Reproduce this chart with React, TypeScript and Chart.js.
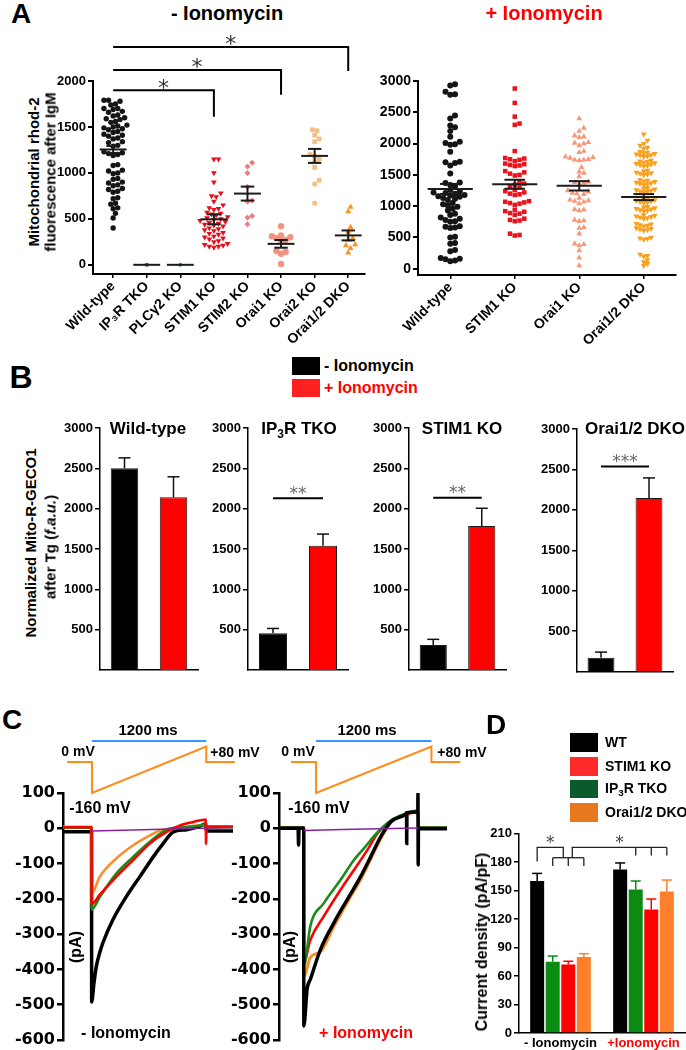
import React, { useEffect, useRef } from 'react';
import { Chart, registerables } from 'chart.js';

Chart.register(...registerables);

const SANS = "'Liberation Sans', Arial, Helvetica, sans-serif";
const DEJAVU = "'DejaVu Sans', 'Liberation Sans', sans-serif";

/* ================= Panel A : - Ionomycin ================= */
const aMinusCategories = ['Wild-type', 'IP₃R TKO', 'PLCγ2 KO', 'STIM1 KO', 'STIM2 KO', 'Orai1 KO', 'Orai2 KO', 'Orai1/2 DKO'];
const aMinusWildType = [1790, 1790, 1780, 1750, 1740, 1700, 1700, 1690, 1670, 1660, 1630, 1620, 1600, 1590, 1580, 1560, 1550, 1520, 1510, 1500, 1490, 1480, 1470, 1450, 1440, 1420, 1410, 1400, 1380, 1370, 1340, 1330, 1300, 1290, 1230, 1220, 1210, 1200, 1190, 1090, 1080, 1030, 1020, 1000, 990, 940, 930, 900, 890, 870, 860, 830, 820, 800, 790, 730, 720, 670, 660, 620, 610, 560, 510, 400];
const aMinusIP3RTKO = [0];
const aMinusPLCg2KO = [0];
const aMinusSTIM1KO = [1150, 1150, 1000, 900, 780, 750, 740, 690, 650, 620, 610, 600, 570, 560, 550, 540, 520, 510, 500, 490, 480, 470, 460, 450, 440, 430, 420, 400, 390, 380, 370, 350, 340, 330, 310, 300, 290, 280, 260, 250, 230, 220, 210, 200, 200, 190];
const aMinusSTIM2KO = [1110, 1070, 1000, 850, 700, 690, 530, 515, 440];
const aMinusOrai1KO = [420, 320, 310, 300, 290, 270, 260, 150, 140, 120, 10];
const aMinusOrai2KO = [1470, 1460, 1410, 1370, 1340, 1200, 1180, 1150, 1120, 1060, 920, 880, 670];
const aMinusOrai12DKO = [630, 580, 410, 360, 290, 270, 220, 210, 180, 130];
const aMinusMeans = [1255, 0, 0, 495, 775, 228, 1185, 320];
const aMinusSEM = [38, 0, 0, 54, 76, 42, 76, 54];
const aMinusYTicks = [0, 500, 1000, 1500, 2000];

/* ================= Panel A : + Ionomycin ================= */
const aPlusCategories = ['Wild-type', 'STIM1 KO', 'Orai1 KO', 'Orai1/2 DKO'];
const aPlusWildType = [2950, 2930, 2830, 2790, 2780, 2450, 2400, 2290, 2260, 2200, 2110, 2030, 2010, 1990, 1980, 1870, 1710, 1700, 1690, 1650, 1520, 1380, 1370, 1340, 1320, 1260, 1240, 1220, 1210, 1200, 1180, 1170, 1160, 1150, 1130, 1120, 1100, 1050, 1030, 1010, 990, 960, 930, 880, 860, 820, 800, 780, 760, 750, 680, 670, 660, 650, 510, 500, 410, 400, 300, 280, 170, 160, 150, 130, 120];
const aPlusSTIM1KO = [2880, 2650, 2430, 2320, 2300, 1880, 1770, 1760, 1750, 1740, 1720, 1680, 1670, 1660, 1650, 1640, 1560, 1540, 1520, 1500, 1490, 1380, 1360, 1340, 1310, 1300, 1260, 1240, 1220, 1200, 1190, 1180, 1080, 1070, 1060, 1050, 1040, 1020, 940, 920, 910, 890, 880, 860, 800, 780, 770, 760, 560, 540, 530];
const aPlusOrai1KO = [2400, 2250, 2200, 2130, 2110, 2100, 2020, 2010, 2000, 1970, 1880, 1860, 1790, 1780, 1770, 1750, 1740, 1740, 1730, 1620, 1550, 1530, 1475, 1390, 1380, 1370, 1340, 1250, 1230, 1210, 1200, 1190, 1130, 1100, 1090, 1080, 1070, 1040, 950, 940, 930, 780, 770, 760, 660, 650, 560, 400, 390, 370, 290, 175, 50];
const aPlusOrai12DKO = [2150, 2050, 2000, 1970, 1940, 1920, 1870, 1860, 1850, 1840, 1830, 1820, 1810, 1800, 1790, 1730, 1720, 1710, 1700, 1690, 1680, 1670, 1660, 1650, 1640, 1570, 1560, 1540, 1530, 1520, 1510, 1500, 1420, 1410, 1400, 1390, 1380, 1370, 1360, 1350, 1340, 1290, 1280, 1270, 1260, 1250, 1240, 1230, 1220, 1120, 1110, 1100, 1090, 1080, 1070, 1060, 1050, 990, 980, 970, 960, 950, 940, 930, 920, 860, 850, 840, 830, 820, 810, 800, 720, 710, 700, 690, 680, 650, 640, 630, 620, 610, 500, 490, 480, 470, 230, 210, 200, 140, 110, 80, 50];
const aPlusMeans = [1275, 1350, 1325, 1145];
const aPlusSEM = [80, 72, 75, 48];
const aPlusYTicks = [0, 500, 1000, 1500, 2000, 2500, 3000];

/* ================= Panel B ================= */
const bConditions = ['- Ionomycin', '+ Ionomycin'];
const bGenotypes = ['Wild-type', 'IP3R TKO', 'STIM1 KO', 'Orai1/2 DKO'];
const bMinusMean = [2500, 455, 310, 170];
const bMinusErr = [130, 60, 70, 70];
const bPlusMean = [2140, 1540, 1785, 2145];
const bPlusErr = [255, 145, 220, 250];
const bSignif = ['', '**', '**', '***'];
const bYTicks = [500, 1000, 1500, 2000, 2500, 3000];

/* ================= Panel C (traces, pA vs ms from ramp start) ================= */
const cMinusWTTime = [-300, -1, 0, 25, 50, 85, 120, 225, 365, 505, 645, 750, 855, 995, 1135, 1195, 1200, 1480];
const cMinusWT = [-10, -10, -492, -437, -390, -352, -323, -258, -193, -137, -81, -43, -10, -4, 6, 13, -8, -8];
const cMinusSTIM1Time = [-300, -1, 0, 85, 260, 435, 610, 785, 925, 1065, 1195, 1198, 1202, 1480];
const cMinusSTIM1 = [3, 3, -215, -188, -137, -90, -43, -10, 8, 18, 25, -45, 5, 5];
const cMinusIP3RTime = [-300, -1, 0, 85, 260, 435, 610, 785, 925, 1065, 1195, 1200, 1480];
const cMinusIP3R = [2, 2, -230, -195, -128, -81, -38, -4, 2, 5, 10, 3, 3];
const cMinusOraiTime = [-300, -1, 0, 85, 260, 435, 610, 715, 855, 1000, 1195, 1200, 1480];
const cMinusOrai = [4, 4, -185, -137, -85, -48, -20, -6, 0, 5, 10, 4, 4];
const cMinusRefTime = [0, 1480];
const cMinusRef = [-8, 2];

const cPlusWTTime = [-260, -60, -55, -50, -1, 0, 35, 70, 175, 315, 455, 595, 700, 805, 910, 1050, 1076, 1078, 1080, 1172, 1194, 1196, 1198, 1201, 1500];
const cPlusWT = [0, 0, -48, 0, 0, -560, -455, -427, -343, -268, -202, -137, -81, -24, 18, 37, 42, -43, 44, 46, 48, 102, -104, -1, -1];
const cPlusSTIM1Time = [-260, -1, 0, 70, 210, 385, 525, 665, 770, 910, 1050, 1196, 1201, 1500];
const cPlusSTIM1 = [3, 3, -380, -315, -249, -174, -118, -62, -15, 20, 38, 46, 2, 2];
const cPlusIP3RTime = [-260, -1, 0, 70, 210, 385, 525, 630, 770, 910, 1050, 1196, 1201, 1500];
const cPlusIP3R = [2, 2, -390, -275, -212, -146, -90, -57, -12, 22, 40, 50, 2, 2];
const cPlusOraiTime = [-260, -1, 0, 70, 175, 315, 455, 595, 700, 805, 910, 1050, 1196, 1201, 1500];
const cPlusOrai = [2, 2, -420, -365, -350, -278, -210, -145, -88, -30, 16, 36, 47, 2, 2];
const cPlusRefTime = [0, 1200];
const cPlusRef = [-6, 1];
const cYTicks = [-600, -500, -400, -300, -200, -100, 0, 100];

const protocolTime = [-260, 0, 0, 1200, 1200, 1500];
const protocolVoltage = [0, 0, -160, 80, 0, 0];

/* ================= Panel D ================= */
const dConditions = ['- Ionomycin', '+Ionomycin'];
const dWT = [160, 172];
const dWTErr = [8, 7];
const dIP3RTKO = [75, 151];
const dIP3RTKOErr = [6, 9];
const dSTIM1KO = [72, 130];
const dSTIM1KOErr = [3.5, 11];
const dOrai12DKO = [80, 149];
const dOrai12DKOErr = [3.5, 12];
const dYTicks = [0, 30, 60, 90, 120, 150, 180, 210];

/* ================= helpers ================= */
function seg(ctx: any, x1: number, y1: number, x2: number, y2: number) {
  ctx.beginPath();
  ctx.moveTo(x1, y1);
  ctx.lineTo(x2, y2);
  ctx.stroke();
}

function centeredText(ctx: any, text: string, x: number, cy: number, font: string, color: string) {
  ctx.save();
  ctx.font = font;
  ctx.fillStyle = color;
  ctx.textAlign = 'center';
  ctx.textBaseline = 'alphabetic';
  const m = ctx.measureText(text);
  const base = cy + (m.actualBoundingBoxAscent - m.actualBoundingBoxDescent) / 2;
  ctx.fillText(text, x, base);
  ctx.restore();
}

// simple beeswarm layout: keeps each value, spreads points sideways to avoid overlap
function beeswarm(values: number[], center: number, unitsPerPx: number, pxPerCat: number, diam: number) {
  const placed: { x: number; y: number }[] = [];
  const out: { x: number; y: number }[] = [];
  const sorted = [...values].sort((a, b) => a - b);
  const cands: number[] = [0];
  for (let k = 1; k < 80; k++) cands.push(k * diam * 0.5, -k * diam * 0.5);
  for (const v of sorted) {
    const ypx = v / unitsPerPx;
    let best = 0;
    for (const c of cands) {
      let ok = true;
      for (const p of placed) {
        if ((p.x - c) * (p.x - c) + (p.y - ypx) * (p.y - ypx) < diam * diam) { ok = false; break; }
      }
      if (ok) { best = c; break; }
    }
    placed.push({ x: best, y: ypx });
    out.push({ x: center + best / pxPerCat, y: v });
  }
  return out;
}

const tickFont = (size: number, family = SANS) => ({ family, size, weight: 'bold' as const, lineHeight: 1 });

function yAxis(min: number, max: number, ticks: number[], width: number, font: any, bw: number, tl = 5) {
  return {
    type: 'linear',
    min,
    max,
    afterBuildTicks: (s: any) => { s.ticks = ticks.map((v) => ({ value: v })); },
    afterFit: (s: any) => { s.width = width; },
    border: { display: true, color: '#000', width: bw },
    grid: { drawOnChartArea: false, color: '#000', lineWidth: bw, tickLength: tl },
    ticks: { color: '#000', font, padding: 2, callback: (v: any) => String(v) },
  };
}

const baseOptions = {
  responsive: false,
  maintainAspectRatio: false,
  animation: false,
  events: [],
  plugins: { legend: { display: false }, tooltip: { enabled: false }, title: { display: false } },
};

function meanSemPlugin(means: number[], sems: number[], half: number, cap: number) {
  return {
    id: 'meanSem',
    afterDatasetsDraw(chart: any) {
      const { ctx } = chart;
      const x = chart.scales.x, y = chart.scales.y;
      ctx.save();
      ctx.strokeStyle = '#1b1b1b';
      ctx.lineWidth = 2;
      means.forEach((m, i) => {
        const c = x.getPixelForValue(i);
        const hw = x.getPixelForValue(i + half) - c;
        const cw = x.getPixelForValue(i + cap) - c;
        const ym = y.getPixelForValue(m);
        seg(ctx, c - hw, ym, c + hw, ym);
        if (sems[i] > 0) {
          const yt = y.getPixelForValue(m + sems[i]);
          const yb = y.getPixelForValue(m - sems[i]);
          seg(ctx, c - cw, yt, c + cw, yt);
          seg(ctx, c - cw, yb, c + cw, yb);
          seg(ctx, c, yt, c, yb);
        }
      });
      ctx.restore();
    },
  };
}

/* ================= chart configs ================= */
function aMinusConfig() {
  const groups = [aMinusWildType, aMinusIP3RTKO, aMinusPLCg2KO, aMinusSTIM1KO, aMinusSTIM2KO, aMinusOrai1KO, aMinusOrai2KO, aMinusOrai12DKO];
  const styles = [
    { c: '#151515', s: 'circle', r: 2.7, rot: 0 },
    { c: '#555555', s: 'rect', r: 2.5, rot: 0 },
    { c: '#1d9c86', s: 'circle', r: 2, rot: 0 },
    { c: '#e3101e', s: 'triangle', r: 3.3, rot: 180 },
    { c: '#ee7b80', s: 'rectRot', r: 3, rot: 0 },
    { c: '#f39482', s: 'circle', r: 3.2, rot: 0 },
    { c: '#f4bf86', s: 'rect', r: 3.3, rot: 0 },
    { c: '#f69421', s: 'triangle', r: 3.5, rot: 0 },
  ];
  const brackets = [
    { from: 0, to: 3, level: 1900, drop: 1610 },
    { from: 0, to: 5, level: 2120, drop: 1850 },
    { from: 0, to: 7, level: 2370, drop: 2110 },
  ];
  return {
    type: 'scatter',
    data: {
      datasets: groups.map((g, i) => ({
        data: beeswarm(g, i, 10.87, 33.6, 4.6),
        backgroundColor: styles[i].c,
        borderColor: styles[i].c,
        borderWidth: 0,
        pointStyle: styles[i].s,
        pointRadius: styles[i].r,
        rotation: styles[i].rot,
      })),
    },
    options: {
      ...baseOptions,
      layout: { padding: { top: 51, right: 10, left: 0, bottom: 0 } },
      scales: {
        x: {
          type: 'linear',
          min: -0.6,
          max: 7.5,
          afterBuildTicks: (s: any) => { s.ticks = aMinusCategories.map((_, i) => ({ value: i })); },
          afterFit: (s: any) => { s.height = 71; },
          border: { display: true, color: '#000', width: 2 },
          grid: { drawOnChartArea: false, color: '#000', lineWidth: 1.5, tickLength: 4 },
          ticks: { color: '#000', font: tickFont(14), padding: 1, autoSkip: false, minRotation: 45, maxRotation: 45, callback: (v: any) => aMinusCategories[v] },
        },
        y: yAxis(-100, 2000, aMinusYTicks, 38, tickFont(13), 2),
      },
    },
    plugins: [
      meanSemPlugin(aMinusMeans, aMinusSEM, 0.4, 0.2),
      {
        id: 'brackets',
        afterDraw(chart: any) {
          const { ctx } = chart;
          const x = chart.scales.x, y = chart.scales.y;
          ctx.save();
          ctx.strokeStyle = '#000';
          ctx.lineWidth = 2;
          brackets.forEach((b) => {
            const x1 = x.getPixelForValue(b.from), x2 = x.getPixelForValue(b.to);
            const yl = y.getPixelForValue(b.level), yd = y.getPixelForValue(b.drop);
            ctx.beginPath();
            ctx.moveTo(x1, yl);
            ctx.lineTo(x2, yl);
            ctx.lineTo(x2, yd);
            ctx.stroke();
            centeredText(ctx, '*', (x1 + x2) / 2, yl - 6.5, `22px ${DEJAVU}`, '#333');
          });
          ctx.restore();
        },
      },
    ],
  };
}

function aPlusConfig() {
  const groups = [aPlusWildType, aPlusSTIM1KO, aPlusOrai1KO, aPlusOrai12DKO];
  const styles = [
    { c: '#151515', s: 'circle', r: 3, rot: 0, d: 4.8 },
    { c: '#e8141c', s: 'rect', r: 3.2, rot: 0, d: 4.8 },
    { c: '#f4987a', s: 'triangle', r: 3.4, rot: 0, d: 4.6 },
    { c: '#f7a01e', s: 'triangle', r: 3.4, rot: 180, d: 3.7 },
  ];
  return {
    type: 'scatter',
    data: {
      datasets: groups.map((g, i) => ({
        data: beeswarm(g, i, 15.98, 65, styles[i].d),
        backgroundColor: styles[i].c,
        borderColor: styles[i].c,
        borderWidth: 0,
        pointStyle: styles[i].s,
        pointRadius: styles[i].r,
        rotation: styles[i].rot,
      })),
    },
    options: {
      ...baseOptions,
      layout: { padding: { top: 51, right: 10, left: 0, bottom: 0 } },
      scales: {
        x: {
          type: 'linear',
          min: -0.5,
          max: 3.5,
          afterBuildTicks: (s: any) => { s.ticks = aPlusCategories.map((_, i) => ({ value: i })); },
          afterFit: (s: any) => { s.height = 70; },
          border: { display: true, color: '#000', width: 2 },
          grid: { drawOnChartArea: false, color: '#000', lineWidth: 1.5, tickLength: 4 },
          ticks: { color: '#000', font: tickFont(14), padding: 1, autoSkip: false, minRotation: 45, maxRotation: 45, callback: (v: any) => aPlusCategories[v] },
        },
        y: yAxis(-100, 3000, aPlusYTicks, 46, tickFont(14), 2),
      },
    },
    plugins: [meanSemPlugin(aPlusMeans, aPlusSEM, 0.35, 0.16)],
  };
}

// layout of the four B panels (pixel boxes)
const bLayout = [
  { axis: 100, end: 198, top: 428, bottom: 670, sig: 0 },
  { axis: 248, end: 348, top: 428, bottom: 670, sig: 2130 },
  { axis: 409, end: 506, top: 428, bottom: 670, sig: 2135 },
  { axis: 577, end: 673, top: 429, bottom: 672, sig: 2535 },
];

function bConfig(i: number) {
  const L = bLayout[i];
  return {
    type: 'bar',
    data: {
      labels: bConditions,
      datasets: [{
        label: bGenotypes[i],
        data: [bMinusMean[i], bPlusMean[i]],
        backgroundColor: ['#000000', '#ff0000'],
        borderColor: '#1a1a1a',
        borderWidth: 1,
        barPercentage: 0.56,
        categoryPercentage: 1,
      }],
    },
    options: {
      ...baseOptions,
      layout: { padding: { top: L.top - 415, right: 8, left: 0, bottom: 680 - L.bottom } },
      scales: {
        x: {
          type: 'category',
          afterFit: (s: any) => { s.height = 0; },
          border: { display: true, color: '#000', width: 1.5 },
          grid: { display: false, drawTicks: false },
          ticks: { display: false },
        },
        y: yAxis(0, 3000, bYTicks, 48, tickFont(13), 1.5),
      },
    },
    plugins: [{
      id: 'bExtras',
      afterDatasetsDraw(chart: any) {
        const { ctx } = chart;
        const y = chart.scales.y;
        const meta = chart.getDatasetMeta(0);
        const errs = [bMinusErr[i], bPlusErr[i]];
        const vals = [bMinusMean[i], bPlusMean[i]];
        ctx.save();
        ctx.strokeStyle = '#111';
        ctx.lineWidth = 1.5;
        meta.data.forEach((bar: any, k: number) => {
          const top = y.getPixelForValue(vals[k] + errs[k]);
          seg(ctx, bar.x, bar.y, bar.x, top);
          seg(ctx, bar.x - 6, top, bar.x + 6, top);
        });
        if (bSignif[i]) {
          const x1 = meta.data[0].x, x2 = meta.data[1].x;
          const yl = y.getPixelForValue(L.sig);
          ctx.lineWidth = 2;
          ctx.strokeStyle = '#000';
          seg(ctx, x1, yl, x2, yl);
          centeredText(ctx, bSignif[i], (x1 + x2) / 2, yl - 8, `17px ${DEJAVU}`, '#666');
        }
        ctx.restore();
      },
    }],
  };
}

function traceConfig(traces: any[], xmin: number, xmax: number, yWidth: number, padRight: number) {
  return {
    type: 'scatter',
    data: {
      datasets: traces.map((tr) => ({
        data: tr.t.map((t: number, k: number) => ({ x: t, y: tr.v[k] })),
        showLine: true,
        borderColor: tr.color,
        backgroundColor: tr.color,
        borderWidth: tr.w,
        pointRadius: 0,
        cubicInterpolationMode: 'monotone',
        fill: false,
      })),
    },
    options: {
      ...baseOptions,
      layout: { padding: { top: 13, right: padRight, left: 0, bottom: 8 } },
      scales: {
        x: { type: 'linear', min: xmin, max: xmax, display: false },
        y: yAxis(-600, 100, cYTicks, yWidth, tickFont(16, DEJAVU), 2.5, 6),
      },
    },
  };
}

function protocolConfig(padLeft: number, padRight: number) {
  return {
    type: 'scatter',
    data: {
      datasets: [{
        data: protocolTime.map((t, k) => ({ x: t, y: protocolVoltage[k] })),
        showLine: true,
        borderColor: '#ff8c1a',
        borderWidth: 2,
        pointRadius: 0,
        tension: 0,
        clip: false,
      }],
    },
    options: {
      ...baseOptions,
      layout: { padding: { top: 26.5, right: padRight, left: padLeft, bottom: 17 } },
      scales: {
        x: { type: 'linear', min: -300, max: 1550, display: false },
        y: { type: 'linear', min: -160, max: 80, display: false },
      },
    },
    plugins: [{
      id: 'scaleBar',
      afterDraw(chart: any) {
        const { ctx, chartArea } = chart;
        const x = chart.scales.x;
        ctx.save();
        ctx.strokeStyle = '#3399ff';
        ctx.lineWidth = 2;
        seg(ctx, x.getPixelForValue(0), chartArea.top - 5.5, x.getPixelForValue(1200), chartArea.top - 5.5);
        ctx.restore();
      },
    }],
  };
}

function dConfig() {
  const series = [
    { label: 'WT', data: dWT, err: dWTErr, color: '#000000' },
    { label: 'IP3R TKO', data: dIP3RTKO, err: dIP3RTKOErr, color: '#0a8c12' },
    { label: 'STIM1 KO', data: dSTIM1KO, err: dSTIM1KOErr, color: '#ff0000' },
    { label: 'Orai1/2 DKO', data: dOrai12DKO, err: dOrai12DKOErr, color: '#ff7f2a' },
  ];
  return {
    type: 'bar',
    data: {
      labels: dConditions,
      datasets: series.map((s) => ({
        label: s.label,
        data: s.data,
        backgroundColor: s.color,
        borderWidth: 0,
        barPercentage: 0.9,
        categoryPercentage: 0.75,
      })),
    },
    options: {
      ...baseOptions,
      layout: { padding: { top: 8, right: 1, left: 0, bottom: 0 } },
      scales: {
        x: {
          type: 'category',
          afterFit: (s: any) => { s.height = 17; },
          border: { display: true, color: '#000', width: 1.5 },
          grid: { display: false, drawTicks: false },
          ticks: { font: tickFont(13), padding: 4, color: (c: any) => (c.index === 1 ? '#ff0000' : '#000') },
        },
        y: yAxis(0, 210, dYTicks, 49, tickFont(13), 1.5),
      },
    },
    plugins: [{
      id: 'dExtras',
      afterDatasetsDraw(chart: any) {
        const { ctx } = chart;
        const y = chart.scales.y;
        ctx.save();
        ctx.lineWidth = 1.5;
        series.forEach((s, di) => {
          const meta = chart.getDatasetMeta(di);
          ctx.strokeStyle = s.color;
          meta.data.forEach((bar: any, k: number) => {
            const top = y.getPixelForValue(s.data[k] + s.err[k]);
            seg(ctx, bar.x, bar.y, bar.x, top);
            seg(ctx, bar.x - 5, top, bar.x + 5, top);
          });
        });
        const bx = (d: number, k: number) => chart.getDatasetMeta(d).data[k].x;
        const Y = (v: number) => y.getPixelForValue(v);
        const wt1 = bx(0, 0), g1 = bx(1, 0), r1 = bx(2, 0), o1 = bx(3, 0);
        const g2 = bx(1, 1), r2 = bx(2, 1), o2 = bx(3, 1);
        ctx.strokeStyle = '#222';
        ctx.lineWidth = 1.3;
        // lower bracket over the - Ionomycin KO bars
        seg(ctx, g1, Y(184.5), o1, Y(184.5));
        [g1, r1, o1].forEach((xx) => seg(ctx, xx, Y(184.5), xx, Y(175.7)));
        // bracket WT vs KOs (- Ionomycin)
        const j1 = r1 - 5, j2 = r1 + 4;
        ctx.beginPath();
        ctx.moveTo(wt1, Y(180.6)); ctx.lineTo(wt1, Y(195.3)); ctx.lineTo(j1, Y(195.3)); ctx.lineTo(j1, Y(184.5));
        ctx.stroke();
        // bracket - Ionomycin KOs vs + Ionomycin KOs
        ctx.beginPath();
        ctx.moveTo(j2, Y(184.5)); ctx.lineTo(j2, Y(195.3)); ctx.lineTo(o2, Y(195.3));
        ctx.stroke();
        [g2, r2, o2].forEach((xx) => seg(ctx, xx, Y(195.3), xx, Y(186.9)));
        centeredText(ctx, '*', (wt1 + j1) / 2, Y(195.3) - 8, `17px ${DEJAVU}`, '#444');
        centeredText(ctx, '*', (j2 + o2) / 2, Y(195.3) - 8, `17px ${DEJAVU}`, '#444');
        ctx.restore();
      },
    }],
  };
}

/* ================= React pieces ================= */
function ChartBox({ left, top, width, height, make }: { left: number; top: number; width: number; height: number; make: () => any }) {
  const ref = useRef<HTMLCanvasElement>(null);
  useEffect(() => {
    const chart = new Chart(ref.current as HTMLCanvasElement, make());
    return () => chart.destroy();
  }, []);
  return <canvas ref={ref} width={width} height={height} style={{ position: 'absolute', left, top, width, height }} />;
}

function T({ x, y, size, color = '#000', rotate = false, align = 'center', weight = 'bold', family = SANS, children }: any) {
  const tx = align === 'center' ? '-50%' : '0';
  return (
    <div
      style={{
        position: 'absolute',
        left: x,
        top: y,
        transform: `translate(${tx},-50%)${rotate ? ' rotate(-90deg)' : ''}`,
        fontFamily: family,
        fontSize: size,
        fontWeight: weight,
        color,
        whiteSpace: 'nowrap',
        lineHeight: 1,
      }}
    >
      {children}
    </div>
  );
}

const Sub = ({ children }: any) => <span style={{ fontSize: '0.7em', position: 'relative', top: '0.35em' }}>{children}</span>;

function Box({ left, top, w, h, bg }: any) {
  return <div style={{ position: 'absolute', left, top, width: w, height: h, background: bg }} />;
}

export default function App() {
  const cMinusTraces = [
    { t: cMinusRefTime, v: cMinusRef, color: '#8a1fa0', w: 1.5 },
    { t: cMinusSTIM1Time, v: cMinusSTIM1, color: '#ff0000', w: 2.6 },
    { t: cMinusIP3RTime, v: cMinusIP3R, color: '#1a8a1a', w: 2.6 },
    { t: cMinusOraiTime, v: cMinusOrai, color: '#ff8c2a', w: 2.6 },
    { t: cMinusWTTime, v: cMinusWT, color: '#000000', w: 3.5 },
  ];
  const cPlusTraces = [
    { t: cPlusRefTime, v: cPlusRef, color: '#8a1fa0', w: 1.5 },
    { t: cPlusWTTime, v: cPlusWT, color: '#000000', w: 3.5 },
    { t: cPlusIP3RTime, v: cPlusIP3R, color: '#1a8a1a', w: 2.6 },
    { t: cPlusSTIM1Time, v: cPlusSTIM1, color: '#ff0000', w: 2.6 },
    { t: cPlusOraiTime, v: cPlusOrai, color: '#ff8c2a', w: 3 },
  ];
  return (
    <div style={{ position: 'absolute', left: 0, top: 0, width: 686, height: 1050, background: '#fff', overflow: 'hidden' }}>
      {/* Panel A */}
      <ChartBox left={55} top={30} width={320} height={315} make={aMinusConfig} />
      <ChartBox left={372} top={30} width={314} height={315} make={aPlusConfig} />
      <T x={21} y={14} size={28}>A</T>
      <T x={227} y={13} size={20}>- Ionomycin</T>
      <T x={544} y={13} size={20} color="#ff0000">+ Ionomycin</T>
      <T x={33} y={172} size={15} rotate>Mitochondrial rhod-2</T>
      <T x={50} y={172} size={15} rotate>fluorescence after IgM</T>

      {/* Panel B */}
      {bLayout.map((L, i) => (
        <ChartBox key={i} left={L.axis - 48} top={415} width={L.end - L.axis + 56} height={265} make={() => bConfig(i)} />
      ))}
      <T x={21} y={377} size={32}>B</T>
      <Box left={292} top={357} w={28} h={18} bg="#000" />
      <Box left={292} top={379} w={28} h={18} bg="#ff2020" />
      <T x={324} y={366} size={16} align="left">- Ionomycin</T>
      <T x={324} y={388} size={16} align="left" color="#ff0000">+ Ionomycin</T>
      <T x={30} y={543} size={15} rotate>Normalized Mito-R-GECO1</T>
      <T x={50} y={547} size={15} rotate>after Tg (<i>f.a.u.</i>)</T>
      <T x={148} y={428} size={17}>Wild-type</T>
      <T x={299} y={428} size={17}>IP<Sub>3</Sub>R TKO</T>
      <T x={462} y={428} size={17}>STIM1 KO</T>
      <T x={635} y={428} size={17}>Orai1/2 DKO</T>

      {/* Panel C */}
      <ChartBox left={40} top={720} width={220} height={90} make={() => protocolConfig(23.4, 20.4)} />
      <ChartBox left={264} top={720} width={220} height={90} make={() => protocolConfig(23.2, 18.9)} />
      <ChartBox left={5} top={780} width={240} height={270} make={() => traceConfig(cMinusTraces, -300, 1480, 58, 12)} />
      <ChartBox left={222} top={780} width={233} height={270} make={() => traceConfig(cPlusTraces, -260, 1500, 57, 8)} />
      <T x={12} y={720} size={28}>C</T>
      <T x={148} y={729} size={15}>1200 ms</T>
      <T x={367} y={729} size={15}>1200 ms</T>
      <T x={78} y={751} size={14}>0 mV</T>
      <T x={298} y={751} size={14}>0 mV</T>
      <T x={235} y={752} size={14}>+80 mV</T>
      <T x={462} y={752} size={14}>+80 mV</T>
      <T x={100} y={808} size={16}>-160 mV</T>
      <T x={319} y={808} size={16}>-160 mV</T>
      <T x={76} y={947} size={16} rotate>(pA)</T>
      <T x={290} y={947} size={16} rotate>(pA)</T>
      <T x={126} y={1033} size={16}>- Ionomycin</T>
      <T x={366} y={1033} size={16} color="#ff0000">+ Ionomycin</T>

      {/* Panel D */}
      <ChartBox left={470} top={825} width={216} height={225} make={dConfig} />
      <T x={496} y={725} size={28}>D</T>
      <Box left={570} top={733} w={28} h={19} bg="#000" />
      <Box left={570} top={757} w={28} h={19} bg="#ff2a2a" />
      <Box left={570} top={780} w={28} h={18} bg="#0b5a2e" />
      <Box left={570} top={803} w={28} h={19} bg="#e8781e" />
      <T x={605} y={742} size={14} align="left">WT</T>
      <T x={605} y={766} size={14} align="left">STIM1 KO</T>
      <T x={605} y={788} size={14} align="left">IP<Sub>3</Sub>R TKO</T>
      <T x={605} y={812} size={14} align="left">Orai1/2 DKO</T>
      <T x={482} y={942} size={16} rotate>Current density (pA/pF)</T>
    </div>
  );
}
